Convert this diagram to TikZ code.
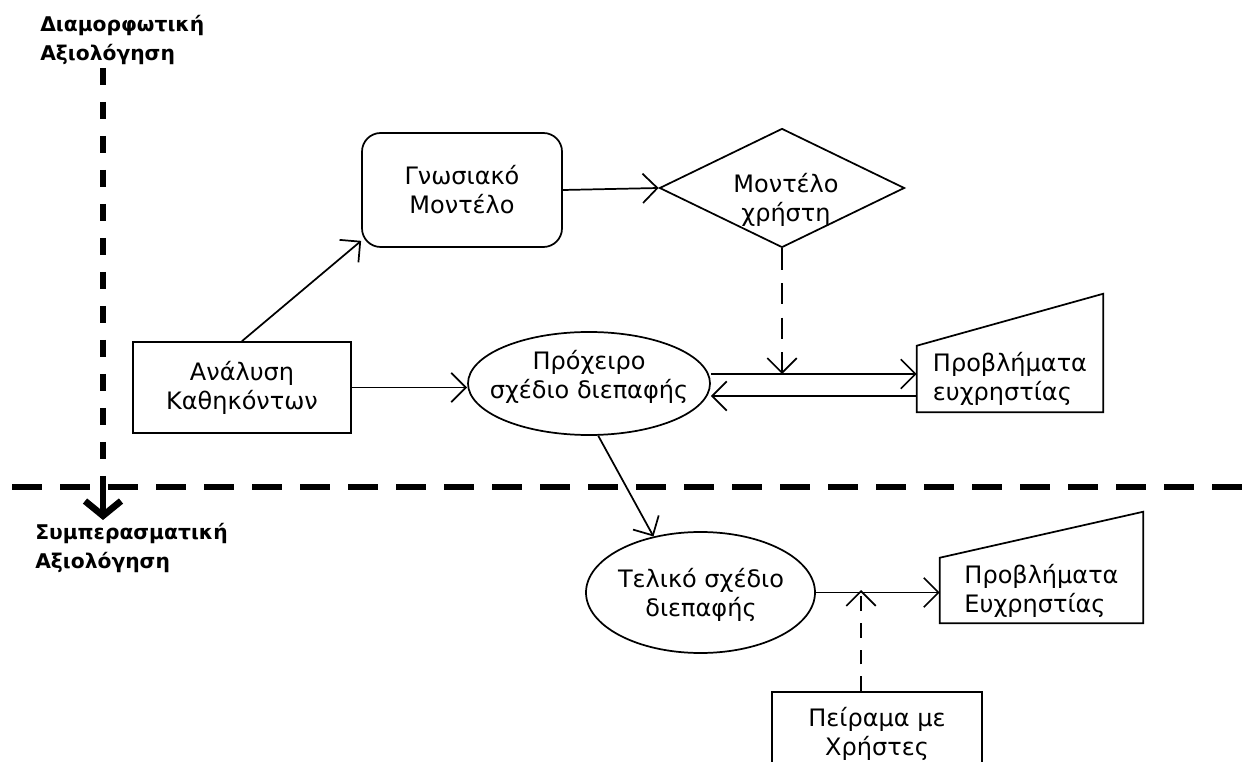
\documentclass[tikz,border=0pt]{standalone}
\usepackage{fontspec}
\setmainfont{DejaVu Sans}
\usetikzlibrary{arrows.meta,shapes.geometric}
\begin{document}
\begin{tikzpicture}[x=0.75pt,y=-0.75pt,
  conn/.style={draw, line width=1.3pt, -{Straight Barb[length=11pt,width=22pt]}},
  dconn/.style={conn, dash pattern=on 16pt off 10pt},
  dconnb/.style={conn, dash pattern=on 11pt off 9pt},
  shapebox/.style={draw, line width=1.3pt, inner sep=0pt},
  txt/.style={font=\fontsize{18}{21.75}\selectfont, align=center, inner sep=0pt},
  ttl/.style={font=\bfseries\fontsize{15.2}{21.75}\selectfont, align=left, inner sep=0pt, anchor=north west},
  phaseline/.style={line width=5pt}]
\clip (0,0) rectangle (1253,762);
\fill[white] (0,0) rectangle (1253,762);
% titles
\node[ttl] (t1) at (40,15) {Διαμορφωτική\\Αξιολόγηση};
\node[ttl] (t2) at (35,523) {Συμπερασματική\\Αξιολόγηση};
% nodes
\node[shapebox, rounded corners=14pt, minimum width=150pt, minimum height=85.5pt, txt] (gn) at (462,190) {Γνωσιακό\\Μοντέλο};
\node[shapebox, diamond, minimum width=183.75pt, minimum height=89.25pt] (dia) at (782,188) {};
\node[txt] (diat) at (786,200) {Μοντέλο\\χρήστη};
\node[shapebox, rectangle, minimum width=163.5pt, minimum height=68.25pt, txt] (an) at (242,387.5) {Ανάλυση\\Καθηκόντων};
\node[shapebox, ellipse, minimum width=181.5pt, minimum height=77.25pt] (pr) at (589,383.5) {};
\node[txt] (prt) at (589,377) {Πρόχειρο\\σχέδιο διεπαφής};
\node[txt, align=left, minimum width=139.5pt, minimum height=49.5pt] (p1) at (1010,379) {Προβλήματα\\ευχρηστίας};
\draw[line width=1.3pt] (p1.south west) -- (p1.north west) -- ([yshift=39pt]p1.north east) -- (p1.south east) -- cycle;
\node[shapebox, ellipse, minimum width=171.75pt, minimum height=90.75pt] (tel) at (700.5,592.5) {};
\node[txt] (telt) at (701,595) {Τελικό σχέδιο\\διεπαφής};
\node[txt, align=left, minimum width=152.25pt, minimum height=48.75pt] (p2) at (1041.5,590.5) {Προβλήματα\\Ευχρηστίας};
\draw[line width=1.3pt] (p2.south west) -- (p2.north west) -- ([yshift=34.5pt]p2.north east) -- (p2.south east) -- cycle;
\node[shapebox, minimum width=157.5pt, minimum height=63pt, txt] (pe) at (877,734) {Πείραμα με\\Χρήστες};
% phase lines
\coordinate (v0) at (103,68);
\coordinate (v1) at (103,487);
\coordinate (v2) at (103,520);
\coordinate (h0) at (12,487);
\coordinate (h1) at (1253,487);
\draw[phaseline, dash pattern=on 12.75pt off 12.75pt] (v0) -- (v1);
\draw[phaseline, dash pattern=on 22.5pt off 13.5pt] (h0) -- (h1);
\draw[phaseline, -{Straight Barb[length=11pt,width=27pt]}] (v1) -- (v2);
% connectors
\draw[conn] (an.north) -- ([yshift=5.25pt]gn.south west);
\draw[conn] (gn.east) -- (dia.west);
\draw[conn] (an.east) -- (an.east -| pr.west);
\coordinate (mu) at (782,374);
\coordinate (ml) at (0,396);
\draw[dconn] (dia.south) -- (mu);
\draw[conn] (pr.east |- mu) -- (p1.west |- mu);
\draw[conn] (p1.west |- ml) -- (pr.east |- ml);
\draw[conn] (pr.-80) -- (tel.130);
\draw[conn] (tel.east) -- (p2.west |- tel.east);
\coordinate (m2) at (861,590);
\draw[dconnb] (pe.north -| m2) -- (m2);
\end{tikzpicture}
\end{document}
